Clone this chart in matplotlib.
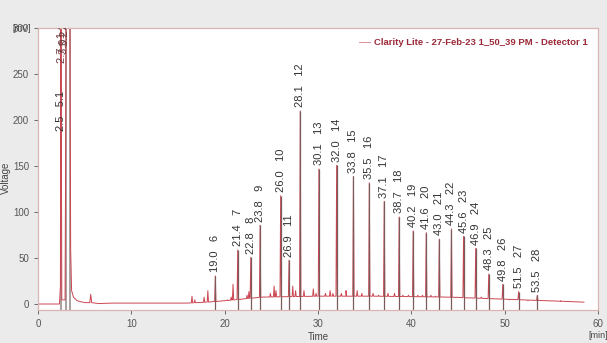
import matplotlib.pyplot as plt
import numpy as np

plt.rcParams['font.family'] = ['Liberation Sans', 'DejaVu Sans']

# labelled peaks: retention time [min], peak number, height [mV]
peak_rt = [19.0, 21.4, 22.8, 23.8, 26.0, 26.9, 28.1, 30.1, 32.0, 33.8, 35.5, 37.1,
           38.7, 40.2, 41.6, 43.0, 44.3, 45.6, 46.9, 48.3, 49.8, 51.5, 53.5]
peak_no = list(range(6, 29))
peak_h = [31, 59, 51, 86, 118, 48, 210, 147, 151, 139, 132, 112,
          95, 80, 78, 71, 82, 74, 61, 33, 22, 14, 10]

# small unlabelled peaks (time, top)
small_rt = [16.5, 16.8, 17.8, 18.2, 20.3, 20.7, 20.9, 22.4, 22.6, 24.3, 24.9, 25.3,
            25.5, 27.3, 27.6, 28.5, 29.5, 29.8, 30.8, 31.3, 31.6, 32.5, 33.0, 34.2,
            34.7, 35.9, 36.5, 37.5, 38.2, 39.1, 39.7, 40.7, 41.2, 42.1, 42.6, 43.6,
            44.0, 44.9, 46.2, 47.5, 48.9, 50.5, 52.5, 55.0, 56.0, 57.0]
small_h = [9, 5, 8, 15, 5, 8, 22, 10, 14, 8, 12, 20,
           15, 20, 15, 15, 17, 12, 12, 15, 12, 12, 15, 15,
           12, 12, 10, 12, 12, 10, 10, 10, 10, 10, 9, 8,
           8, 8, 7, 8, 6, 5, 4, 4, 4, 3]

# baseline drift
base_t = [6.5, 8, 12, 16, 18, 20, 22, 24, 27, 30, 33, 36, 40, 44, 48, 52, 56, 58.5]
base_v = [1, 1.5, 1.5, 1.5, 2.5, 4, 6, 8, 8.5, 9, 9, 9, 8.5, 8, 6.5, 5, 3.5, 2.5]

# solvent front region (off scale)
solv_t = [0, 2.3, 2.4, 2.45, 2.55, 2.9, 3.05, 3.4, 3.5, 3.6, 3.8, 4.2, 5.0, 5.55, 5.65, 5.75]
solv_v = [0.5, 0.5, 20, 400, 5, 5, 400, 400, 60, 15, 8, 4, 2, 2, 11, 2]
solv_edges = [2.45, 3.05, 3.45]

fig = plt.figure(figsize=(6.07, 3.43), dpi=100, facecolor='#ebebeb')
ax = fig.add_axes([0.0626, 0.0962, 0.9225, 0.822])
ax.set_facecolor('white')

# assemble the trace
pts = list(zip(solv_t, solv_v)) + list(zip(base_t, base_v))
w = 0.07
for t, h in zip(list(peak_rt) + small_rt, list(peak_h) + small_h):
    b = np.interp(t, base_t, base_v)
    pts += [(t - w, b), (t, h), (t + w, b)]
pts.sort()
tr_t = [p[0] for p in pts]
tr_v = [p[1] for p in pts]

ax.vlines(solv_edges, -6, 400, color='#a9a0a0', lw=1.4)
ax.plot(tr_t, tr_v, color='#cc4652', lw=0.7,
        label='Clarity Lite - 27-Feb-23 1_50_39 PM - Detector 1')
ax.vlines(peak_rt, -6, peak_h, color='#7a5a5a', lw=0.9)

for t, n, h in zip(peak_rt, peak_no, peak_h):
    ax.text(t, h + 4, f'{t:.1f}   {n}', rotation=90, ha='center', va='bottom',
            fontsize=8, color='#333333')

# crowded labels of the solvent front
ax.text(2.45, 188, '2.5   5.1', rotation=90, ha='center', va='bottom',
        fontsize=8, color='#333333')
for t, y, s in [(2.6, 262, '2.7   1'), (2.75, 272, '3.0   2'), (2.9, 280, '3.2   3')]:
    ax.text(t, y, s, rotation=90, ha='center', va='bottom', fontsize=8,
            color='#6b3a3a', clip_on=True)

ax.set_xlim(0, 60)
ax.set_ylim(-6, 300)
ax.set_xticks([0, 10, 20, 30, 40, 50, 60])
ax.set_yticks([0, 50, 100, 150, 200, 250, 300])
ax.tick_params(labelsize=7, colors='#555555', length=3, width=0.6)
for sp in ax.spines.values():
    sp.set_color('#dcb4b4')
    sp.set_linewidth(0.9)

ax.set_xlabel('Time', fontsize=7, color='#444444', labelpad=2)
ax.set_ylabel('Voltage', fontsize=7, color='#444444')
ax.yaxis.set_label_coords(-0.048, 0.47)
ax.text(1.0, -0.075, '[min]', transform=ax.transAxes, fontsize=6.5,
        color='#444444', ha='center', va='top')
ax.text(-0.012, 1.0, '[mV]', transform=ax.transAxes, fontsize=6.5,
        color='#444444', ha='right', va='center')

leg = ax.legend(loc='upper right', frameon=False, fontsize=6.8, handlelength=1.2,
                borderaxespad=0.7, handletextpad=0.4)
for txt in leg.get_texts():
    txt.set_color('#9c2a3a')
    txt.set_fontweight('bold')
leg.get_lines()[0].set_color('#e09098')

fig.savefig('out.png', dpi=100, facecolor=fig.get_facecolor())
